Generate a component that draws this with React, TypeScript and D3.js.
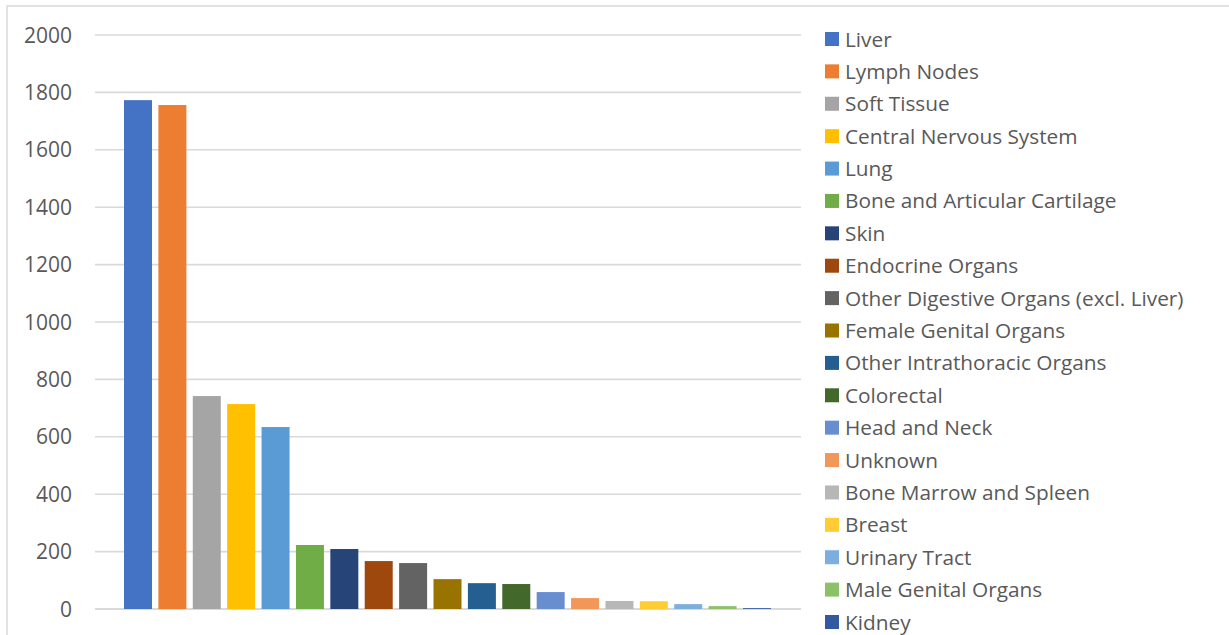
import React from "react";
import * as d3 from "d3";

const sites = [
  "Liver",
  "Lymph Nodes",
  "Soft Tissue",
  "Central Nervous System",
  "Lung",
  "Bone and Articular Cartilage",
  "Skin",
  "Endocrine Organs",
  "Other Digestive Organs (excl. Liver)",
  "Female Genital Organs",
  "Other Intrathoracic Organs",
  "Colorectal",
  "Head and Neck",
  "Unknown",
  "Bone Marrow and Spleen",
  "Breast",
  "Urinary Tract",
  "Male Genital Organs",
  "Kidney",
];
const counts = [1773, 1756, 742, 714, 634, 223, 209, 167, 160, 104, 90, 87, 59, 38, 28, 27, 17, 10, 3];
const colors = [
  "#4472C4", "#ED7D31", "#A5A5A5", "#FFC000", "#5B9BD5", "#70AD47", "#264478",
  "#9E480E", "#636363", "#997300", "#255E91", "#43682B", "#698ED0", "#F1975A",
  "#B7B7B7", "#FFCD33", "#7CAFDD", "#8CC168", "#335AA1",
];
const yTicks = [0, 200, 400, 600, 800, 1000, 1200, 1400, 1600, 1800, 2000];

const W = 1229;
const H = 635;
const plot = { left: 95, right: 801, top: 35, bottom: 609 };
const textColor = "#595959";
const font = "'Open Sans', sans-serif";

export default function App() {
  const y = d3.scaleLinear().domain([0, 2000]).range([plot.bottom, plot.top]);
  const x = d3
    .scaleBand<string>()
    .domain(sites)
    .range([124, 771])
    .paddingInner(0.186)
    .paddingOuter(0);
  const legendY = d3.scalePoint<string>().domain(sites).range([39, 622]);

  return (
    <svg
      width={W}
      height={H}
      style={{ position: "absolute", left: 0, top: 0, background: "#fff" }}
    >
      <rect x={7} y={6} width={W + 10} height={H + 10} fill="#fff" stroke="#d9d9d9" strokeWidth={1.5} />
      {yTicks.map((t) => (
        <g key={t}>
          <line
            x1={plot.left}
            x2={plot.right}
            y1={y(t)}
            y2={y(t)}
            stroke="#d9d9d9"
            strokeWidth={t === 0 ? 2.2 : 1.6}
          />
          <text
            x={72}
            y={y(t)}
            dy="0.36em"
            textAnchor="end"
            fill={textColor}
            fontFamily={font}
            fontSize={21}
          >
            {t}
          </text>
        </g>
      ))}
      {sites.map((s, i) => (
        <rect
          key={s}
          x={x(s)}
          y={y(counts[i])}
          width={x.bandwidth()}
          height={y(0) - y(counts[i])}
          fill={colors[i]}
        />
      ))}
      {sites.map((s, i) => (
        <g key={s} transform={`translate(825,${legendY(s)})`}>
          <rect x={0} y={-7} width={14} height={14} fill={colors[i]} />
          <text x={20} dy="0.36em" fill={textColor} fontFamily={font} fontSize={20.8}>
            {s}
          </text>
        </g>
      ))}
    </svg>
  );
}
